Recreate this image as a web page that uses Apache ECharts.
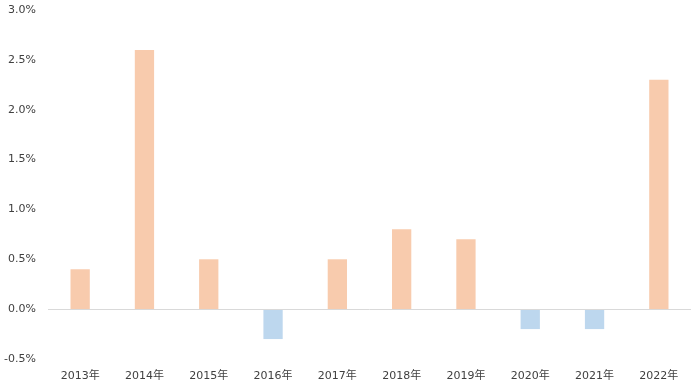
<!DOCTYPE html>
<html>
<head>
<meta charset="utf-8">
<script src="https://cdn.jsdelivr.net/npm/echarts@6/dist/echarts.min.js"></script>
<style>
html,body{margin:0;padding:0;background:#fff;}
#c{width:700px;height:392px;}
</style>
</head>
<body>
<div id="c"></div>
<script>
const categories = ['2013年','2014年','2015年','2016年','2017年','2018年','2019年','2020年','2021年','2022年'];
const values = [0.4, 2.6, 0.5, -0.3, 0.5, 0.8, 0.7, -0.2, -0.2, 2.3];
const yTicks = [-0.5, 0, 0.5, 1.0, 1.5, 2.0, 2.5, 3.0];

const posColor = '#F8CBAD';
const negColor = '#BDD7EE';
const font = "'DejaVu Sans', 'Noto Sans CJK JP', sans-serif";

const chart = echarts.init(document.getElementById('c'), null, {renderer:'canvas'});
chart.setOption({
  animation: false,
  backgroundColor: '#ffffff',
  grid: {left: 48, right: 9, top: 10, bottom: 33, containLabel: false},
  xAxis: {
    type: 'category',
    data: categories,
    axisLine: {show: false},
    axisTick: {show: false},
    axisLabel: {color: '#404040', fontSize: 11, fontFamily: font, margin: 12}
  },
  yAxis: {
    type: 'value',
    min: yTicks[0],
    max: yTicks[yTicks.length-1],
    interval: 0.5,
    axisLine: {show: false},
    axisTick: {show: false},
    splitLine: {show: false},
    axisLabel: {color: '#404040', fontSize: 11, fontFamily: font, margin: 12,
      formatter: v => v.toFixed(1) + '%'}
  },
  series: [{
    type: 'bar',
    barWidth: '30%',
    data: values.map(v => ({value: v, itemStyle: {color: v >= 0 ? posColor : negColor}})),
    markLine: {
      silent: true,
      symbol: 'none',
      label: {show: false},
      lineStyle: {color: '#D9D9D9', width: 1, type: 'solid'},
      data: [{yAxis: 0}]
    }
  }]
});
</script>
</body>
</html>
